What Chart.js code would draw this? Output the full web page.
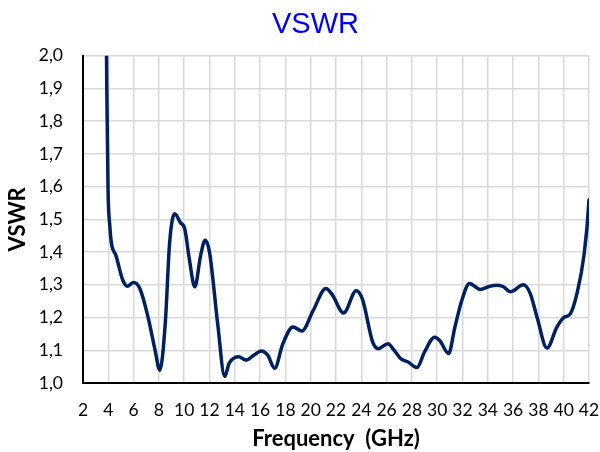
<!DOCTYPE html>
<html lang="en">
    <head>
        <meta charset="UTF-8">
        <title>VSWR</title>
        <script src="https://cdn.jsdelivr.net/npm/chart.js@4.4.1/dist/chart.umd.min.js"></script>
        <style>
            body, html {
                margin: 0;
                padding: 0;
                background-color: #ffffff;
            }
            #wrap {
                width: 600px;
                height: 452px;
            }
        </style>
    </head>
    <body>
        <div id="wrap"><canvas id="myChart" width="600" height="452"></canvas></div>
    </body>
    <script>
        // frequency (GHz) and VSWR
        var freq = [3.8, 3.88, 3.98, 4.12, 4.25, 4.6, 5.15, 5.5, 6.0, 6.5, 7.15, 7.7, 8.07, 8.5, 8.85, 9.25, 9.7, 10.05, 10.4, 10.84,
            11.3, 11.65, 12.0, 12.65, 13.2, 13.55, 14.0, 14.3, 14.9, 15.5, 16.1, 16.6, 17.15, 17.8, 18.6, 19.3, 20.2, 21.2, 21.7, 22.6,
            23.6, 24.1, 24.9, 25.35, 26.1, 26.6, 27.1, 27.7, 28.4, 29.0, 29.8, 30.2, 30.9, 31.4, 31.95, 32.55, 33.4, 34.1, 34.7, 35.2,
            35.8, 36.8, 37.35, 37.9, 38.68, 39.45, 40.0, 40.5, 41.05, 41.6, 42.0, 42.3]
        var vswr = [2.3, 1.9, 1.59, 1.48, 1.427, 1.39, 1.314, 1.296, 1.307, 1.288, 1.2, 1.1, 1.039, 1.18, 1.43, 1.517, 1.49, 1.47, 1.38, 1.294,
            1.39, 1.436, 1.4, 1.18, 1.02, 1.06, 1.078, 1.08, 1.07, 1.085, 1.098, 1.085, 1.045, 1.12, 1.171, 1.159, 1.222, 1.289, 1.27, 1.214,
            1.282, 1.255, 1.125, 1.105, 1.12, 1.1, 1.075, 1.064, 1.047, 1.095, 1.14, 1.13, 1.09, 1.171, 1.253, 1.304, 1.286, 1.295, 1.299, 1.295,
            1.279, 1.3, 1.274, 1.2, 1.107, 1.17, 1.2, 1.21, 1.274, 1.39, 1.56, 1.85]
        var xTicks = [2, 4, 6, 8, 10, 12, 14, 16, 18, 20, 22, 24, 26, 28, 30, 32, 34, 36, 38, 40, 42]
        var yTicks = [1.0, 1.1, 1.2, 1.3, 1.4, 1.5, 1.6, 1.7, 1.8, 1.9, 2.0]
        var yTickLabels = ["1,0", "1,1", "1,2", "1,3", "1,4", "1,5", "1,6", "1,7", "1,8", "1,9", "2,0"]

        var tickFont = { family: "Lato", size: 17.5 }
        var axisTitleFont = { family: "Lato", size: 22, weight: "bold" }

        var ctx = document.getElementById('myChart').getContext('2d');
        var myChart = new Chart(ctx, {
            type: 'line',
            data: {
                datasets: [{
                    label: 'VSWR',
                    data: freq.map((f, i) => ({ x: f, y: vswr[i] })),
                    borderColor: '#002060',
                    backgroundColor: '#002060',
                    borderWidth: 3.5,
                    pointRadius: 0,
                    cubicInterpolationMode: 'monotone',
                    borderCapStyle: 'round',
                    clip: 0
                }]
            },
            options: {
                responsive: false,
                animation: false,
                layout: { padding: { left: 1, right: 0, top: 0, bottom: 0 } },
                scales: {
                    x: {
                        type: 'linear',
                        min: 2,
                        max: 42,
                        afterBuildTicks: s => { s.ticks = xTicks.map(v => ({ value: v })) },
                        afterFit: s => { s.height = 69; s.paddingLeft = 0; s.paddingRight = 11 },
                        ticks: { font: tickFont, color: '#000', padding: 17, autoSkip: false, maxRotation: 0 },
                        grid: { color: '#d9d9d9', lineWidth: 1.5, drawTicks: false },
                        border: { color: '#000', width: 2 },
                        title: { display: true, text: 'Frequency  (GHz)', font: axisTitleFont, color: '#000', padding: { top: 0, bottom: 0 } }
                    },
                    y: {
                        min: 1,
                        max: 2,
                        afterBuildTicks: s => { s.ticks = yTicks.map(v => ({ value: v })) },
                        afterFit: s => { s.width = 82 },
                        ticks: { font: tickFont, color: '#000', padding: 20, callback: (v, i) => yTickLabels[i] },
                        grid: { color: '#d9d9d9', lineWidth: 1.5, drawTicks: false },
                        border: { color: '#000', width: 2 },
                        title: { display: true, text: 'VSWR', font: axisTitleFont, color: '#000', padding: { top: 4, bottom: 0 } }
                    }
                },
                plugins: {
                    legend: { display: false },
                    tooltip: { enabled: false },
                    title: {
                        display: true,
                        text: 'VSWR',
                        color: '#0000ff',
                        font: { family: "Liberation Sans", size: 29, weight: 'normal' },
                        padding: { top: 8, bottom: 13 }
                    }
                }
            },
            plugins: [{
                // the original title sits a bit right of the canvas centre
                id: 'titleShift',
                afterLayout: c => { c.titleBlock.left += 30 }
            }]
        });
    </script>
</html>
